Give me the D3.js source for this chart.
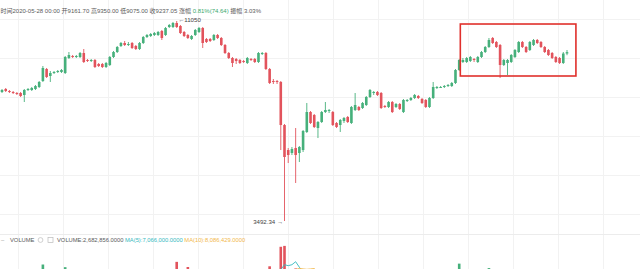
<!DOCTYPE html>
<html>
<head>
<meta charset="utf-8">
<script src="https://cdn.jsdelivr.net/npm/d3@7/dist/d3.min.js"></script>
<style>
  html, body { margin: 0; padding: 0; background: #fff; }
  svg { display: block; }
  text { font-family: "Liberation Sans", "Noto Sans CJK SC", sans-serif; }
</style>
</head>
<body>
<svg id="chart" width="640" height="269"></svg>
<script>
// Daily candles, 2019-12-28 .. 2020-05-28
const firstDay = "2019-12-28";
const lastDay = "2020-05-28";

const open = [
  7341,7469,7384,7341,7299,7299,7216,7426,7426,7469,
  7556,7821,8381,8050,8190,8238,8238,8190,8929,9033,
  8981,8981,9190,8827,8776,8827,8626,8626,8478,8576,
  8981,9243,9568,9735,9624,9735,9568,9404,9735,10077,
  10136,10194,10194,10432,10194,10675,10675,10923,10736,10372,
  10194,9962,10194,10372,10613,9962,9962,9905,10194,10019,
  9624,9190,8929,8878,8827,8776,8676,8878,8878,8726,
  9137,9190,8381,7821,7821,7777,6070,5256,5166,5317,
  5166,5256,5831,6542,6430,5966,6176,6542,6580,6542,
  6141,6070,6212,6357,6141,6618,6734,6695,6812,7133,
  7299,7341,7299,6773,6734,6930,6734,6851,6542,6970,
  7011,7092,7174,7051,7011,6734,7092,7512,7556,7556,
  7599,7599,7732,8333,8726,8726,8776,8878,8726,8981,
  9243,9513,10019,9791,9624,8576,8676,8726,8981,9243,
  9791,9513,9350,9624,9905,9791,9513,9350,9190,8981,
  8929,8676,9161.70
];
const high = [
  7469,7512,7426,7384,7341,7341,7469,7512,7556,7643,
  7821,8527,8430,8285,8285,8333,8381,9033,9243,9085,
  9085,9243,9404,8878,8878,8878,8676,8676,8726,9033,
  9297,9568,9791,9848,9791,9791,9624,9791,10136,10253,
  10312,10372,10432,10492,10675,10861,10987,11050,10798,10432,
  10253,10194,10552,10675,10675,10019,10019,10253,10253,10077,
  9679,9243,8981,8929,8878,8827,8981,8929,8929,9243,
  9243,9243,8430,7912,7867,7821,6106,5317,5348,5966,
  5379,5898,6891,6580,6468,6212,6580,6930,6657,6580,
  6176,6284,6357,6393,6773,7299,6773,6930,7174,7469,
  7384,7384,7341,6812,6970,6970,6891,6891,7051,7051,
  7133,7257,7216,7092,7051,7133,7777,7599,7599,7643,
  7687,7777,8381,8878,8929,8981,9033,8929,9033,9297,
  9568,10019,10077,9848,9679,8878,8878,9137,9404,9848,
  9848,9568,9848,9962,9962,9848,9568,9404,9243,9033,
  8981,9243,9350.00
];
const low = [
  7299,7341,7299,7257,7216,7133,6930,7384,7384,7426,
  7512,7777,7958,7777,8143,8190,8190,8143,8878,8929,
  8929,8929,8676,8726,8726,8430,8478,8430,8430,8527,
  8929,9190,9513,9568,9568,9404,9350,9350,9679,10019,
  10077,10136,10136,9905,10136,10613,10613,10613,10253,10077,
  9962,9905,10136,10312,9459,9735,9791,9848,9962,9568,
  9137,8878,8478,8626,8626,8676,8626,8776,8676,8676,
  9085,8333,7687,7687,7687,5256,3492.34,4877,5107,4347,
  4905,5196,5797,6106,5966,5632,6141,6505,6505,6036,
  5966,5831,6141,6141,6106,6580,6580,6657,6773,7092,
  7216,7174,6657,6695,6695,6505,6695,6618,6505,6930,
  6970,7051,7051,6851,6695,6695,7051,7469,7512,7512,
  7556,7556,7687,8285,8676,8676,8726,8726,8676,8929,
  9190,9459,9679,9459,7958,8527,8096,8676,8929,9190,
  9459,9190,9297,9568,9679,9459,9190,9033,8878,8676,
  8626,8626,9075.00
];
const close = [
  7426,7384,7341,7299,7257,7174,7426,7469,7512,7599,
  7777,8430,8004,8190,8238,8285,8333,8981,9085,8981,
  9033,9190,8726,8776,8827,8478,8527,8478,8676,8981,
  9243,9513,9735,9624,9679,9459,9404,9735,10077,10194,
  10253,10312,10372,10019,10613,10798,10923,10675,10312,10136,
  10019,10136,10492,10613,9735,9791,9848,10194,10019,9624,
  9190,8929,8676,8776,8676,8726,8929,8827,8726,9190,
  9190,8381,7732,7777,7777,6070,5049,5107,5287,5107,
  5348,5864,6542,6141,6001,6176,6542,6618,6618,6070,
  6001,6248,6320,6176,6734,6812,6618,6891,7133,7426,
  7341,7216,6695,6734,6930,6542,6851,6657,7011,7011,
  7092,7216,7092,6891,6734,7092,7556,7556,7556,7599,
  7643,7732,8333,8827,8827,8929,8981,8827,8981,9243,
  9513,9905,9735,9513,8576,8827,8827,9085,9350,9791,
  9513,9243,9791,9905,9735,9513,9243,9085,8929,8726,
  8676,9162.41,9237.05
];
// Daily volume, contracts
const volume = [
  6.2e6,5.1e6,4.8e6,5.5e6,6.0e6,7.2e6,12.5e6,6.4e6,5.9e6,8.8e6,
  13.5e6,20.0e6,14.2e6,9.6e6,7.1e6,6.3e6,6.8e6,18.5e6,15.0e6,9.2e6,
  7.4e6,10.8e6,14.6e6,8.1e6,6.9e6,12.0e6,9.5e6,8.7e6,8.2e6,13.1e6,
  12.4e6,13.8e6,14.5e6,11.2e6,8.9e6,10.6e6,9.8e6,12.7e6,15.3e6,11.9e6,
  10.4e6,9.7e6,12.2e6,14.8e6,16.1e6,14.3e6,15.2e6,21.5e6,13.6e6,14.9e6,
  18.6e6,10.7e6,12.8e6,11.5e6,17.4e6,11.1e6,8.6e6,10.2e6,9.1e6,12.6e6,
  15.4e6,14.1e6,13.3e6,9.9e6,8.7e6,7.8e6,10.5e6,8.4e6,9.6e6,12.3e6,
  8.2e6,16.7e6,19.0e6,10.6e6,9.4e6,30.0e6,30.5e6,16.2e6,13.4e6,17.8e6,
  14.6e6,13.9e6,16.5e6,12.8e6,11.7e6,12.1e6,11.4e6,9.8e6,8.3e6,10.9e6,
  9.5e6,10.3e6,8.1e6,7.9e6,11.6e6,14.2e6,9.0e6,8.5e6,10.7e6,12.9e6,
  8.8e6,7.6e6,12.4e6,7.0e6,8.4e6,10.1e6,7.7e6,8.6e6,10.8e6,6.9e6,
  7.3e6,8.0e6,6.6e6,8.9e6,9.3e6,9.7e6,13.2e6,8.2e6,6.5e6,6.4e6,
  6.1e6,7.5e6,14.9e6,20.5e6,12.6e6,10.4e6,9.9e6,10.7e6,9.1e6,11.8e6,
  13.7e6,18.0e6,14.4e6,13.1e6,17.2e6,13.5e6,12.2e6,10.6e6,11.3e6,13.9e6,
  11.0e6,9.7e6,10.2e6,9.8e6,8.6e6,9.4e6,8.9e6,8834290,9.2e6,8.1e6,
  7.6e6,7747144,2682856
];
// Highlighted range: candle index span and price span
const highlight = [123.3, 154.4, 10860, 8050];

const svg = d3.select("#chart");
const W = 640;
const n = open.length;
const days = d3.timeDay.range(new Date(firstDay + "T00:00"), d3.timeDay.offset(new Date(lastDay + "T00:00"), 1));

const up = "#46b07b", down = "#e2535c", grid = "#f2f2f2";
const textGray = "#5a5a5a";

const x = d3.scaleLinear().domain([0, n - 1]).range([2, 567]);
const y = d3.scaleLog().domain([3492.34, 11050]).range([221, 21]);
const yv = d3.scaleLinear().domain([0, 31e6]).range([300, 245]);
const bodyW = 2.6;

// grid
const g = svg.append("g");
g.selectAll("line.v").data(d3.range(18, W, 45)).join("line")
  .attr("x1", d => d + 0.5).attr("x2", d => d + 0.5).attr("y1", 0).attr("y2", 269)
  .attr("stroke", grid).attr("stroke-width", 1);
g.selectAll("line.h").data(d3.range(19, 232, 39)).join("line")
  .attr("x1", 0).attr("x2", W).attr("y1", d => d + 0.5).attr("y2", d => d + 0.5)
  .attr("stroke", grid).attr("stroke-width", 1);
svg.append("line").attr("x1", 0).attr("x2", W).attr("y1", 234.5).attr("y2", 234.5)
  .attr("stroke", "#ececec");

const idx = d3.range(n);
const isUp = i => close[i] >= open[i];
const col = i => isUp(i) ? up : down;

// candles
const cg = svg.append("g");
cg.selectAll("line.wick").data(idx).join("line")
  .attr("x1", i => x(i)).attr("x2", i => x(i))
  .attr("y1", i => y(high[i])).attr("y2", i => y(low[i]))
  .attr("stroke", col).attr("stroke-width", 0.9);
cg.selectAll("rect.body").data(idx).join("rect")
  .attr("x", i => x(i) - bodyW / 2)
  .attr("y", i => Math.min(y(open[i]), y(close[i])))
  .attr("width", bodyW)
  .attr("height", i => Math.max(1, Math.abs(y(open[i]) - y(close[i]))))
  .attr("fill", col);

// extreme labels
const iMax = d3.maxIndex(high), iMin = d3.minIndex(low);
svg.append("text").attr("x", x(iMax) + 1.5).attr("y", y(high[iMax]) + 1)
  .attr("font-size", 6.1).attr("fill", "#444").text("\u2190" + d3.format(".0f")(high[iMax]));
svg.append("text").attr("x", x(iMin) - 1.5).attr("y", y(low[iMin]) + 3)
  .attr("text-anchor", "end").attr("font-size", 6.1).attr("fill", "#444")
  .text(d3.format(".2f")(low[iMin]) + " \u2192");

// highlight box
svg.append("rect")
  .attr("x", x(highlight[0])).attr("y", y(highlight[2]))
  .attr("width", x(highlight[1]) - x(highlight[0]))
  .attr("height", y(highlight[3]) - y(highlight[2]))
  .attr("fill", "none").attr("stroke", "#e0302c").attr("stroke-width", 1.6);

// volume
const vg = svg.append("g");
vg.selectAll("rect").data(idx).join("rect")
  .attr("x", i => x(i) - bodyW / 2).attr("y", i => yv(volume[i]))
  .attr("width", bodyW).attr("height", i => yv(0) - yv(volume[i]))
  .attr("fill", col);
const ma = k => idx.map(i => i < k - 1 ? null : d3.mean(volume.slice(i - k + 1, i + 1)));
const ma5 = ma(5), ma10 = ma(10);
const line = arr => d3.line().defined(i => arr[i] != null).x(i => x(i)).y(i => yv(arr[i]))(idx);
vg.append("path").attr("d", line(ma5)).attr("fill", "none").attr("stroke", "#36b9c0").attr("stroke-width", 0.9);
vg.append("path").attr("d", line(ma10)).attr("fill", "none").attr("stroke", "#f2b84b").attr("stroke-width", 0.9);

// header: last candle
const L = n - 1;
const f2 = d3.format(".2f");
const chg = close[L] - close[L - 1];
const hdr = svg.append("text").attr("x", 0.5).attr("y", 13).attr("font-size", 6.0).attr("fill", textGray);
const fmtDay = d3.timeFormat("%Y-%m-%d %H:%M");
hdr.append("tspan").text("时间" + fmtDay(days[L]) + " 开" + f2(open[L]) + " 高" + f2(high[L]) +
  " 低" + f2(low[L]) + " 收" + f2(close[L]) + " 涨幅 ");
hdr.append("tspan").attr("fill", "#3aa86e")
  .text(f2(chg / close[L - 1] * 100) + "%(" + f2(chg) + ")");
hdr.append("tspan").text(" 振幅 " + f2((high[L] - low[L]) / low[L] * 100) + "%");

// volume legend
const fmtV = d3.format(",.4f");
const lg = svg.append("g").attr("font-size", 5.8);
lg.append("text").attr("x", 1).attr("y", 242).attr("fill", "#999").text("\u2013");
lg.append("text").attr("x", 10).attr("y", 242).attr("fill", textGray).text("VOLUME");
lg.append("circle").attr("cx", 40.5).attr("cy", 240).attr("r", 2.4)
  .attr("fill", "none").attr("stroke", "#bbb").attr("stroke-width", 0.7);
lg.append("rect").attr("x", 48).attr("y", 237.5).attr("width", 5).attr("height", 5)
  .attr("fill", "none").attr("stroke", "#bbb").attr("stroke-width", 0.7);
const lt = lg.append("text").attr("x", 57).attr("y", 242);
lt.append("tspan").attr("fill", textGray).text("VOLUME:" + fmtV(volume[L]) + "  ");
lt.append("tspan").attr("fill", "#36b9c0").text("MA(5):" + fmtV(ma5[L]) + "  ");
lt.append("tspan").attr("fill", "#f2b84b").text("MA(10):" + fmtV(ma10[L]));
</script>
</body>
</html>
